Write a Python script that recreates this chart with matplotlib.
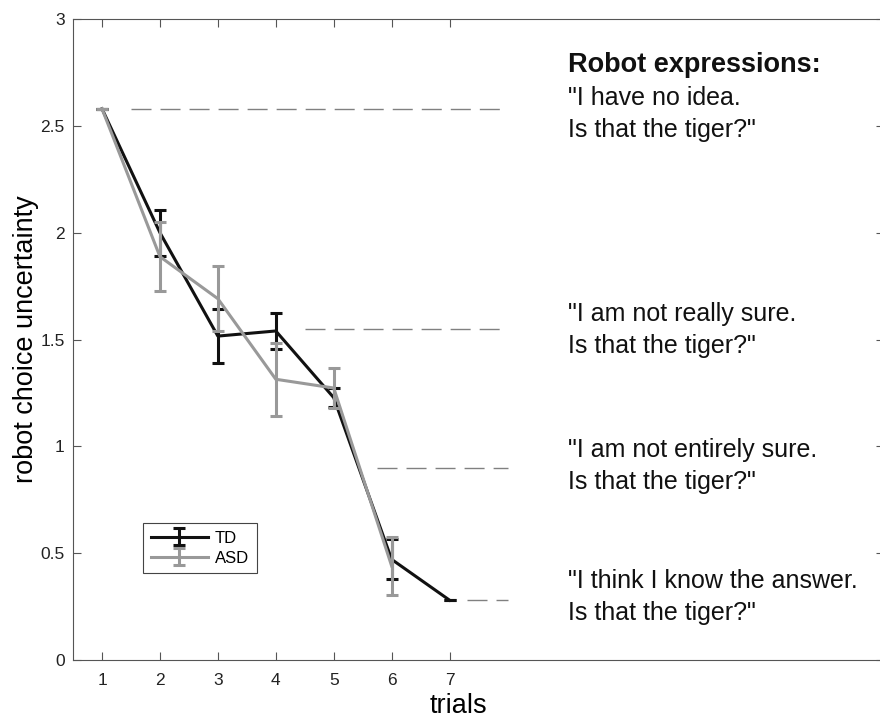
import matplotlib
matplotlib.use("Agg")
import matplotlib.pyplot as plt

plt.rcParams['font.family'] = ['Liberation Sans', 'DejaVu Sans']

# data
trials_td = [1, 2, 3, 4, 5, 6, 7]
td_mean = [2.58, 2.00, 1.516, 1.54, 1.228, 0.471, 0.28]
td_err = [0.0, 0.108, 0.127, 0.083, 0.045, 0.094, 0.0]

trials_asd = [1, 2, 3, 4, 5, 6]
asd_mean = [2.58, 1.888, 1.691, 1.314, 1.273, 0.44]
asd_err = [0.0, 0.162, 0.152, 0.172, 0.095, 0.135]

# robot expression levels (dashed reference lines)
level_y = [2.58, 1.55, 0.90, 0.28]
level_start = [1.5, 4.5, 5.75, 7.3]
level_end = 8.0

header = 'Robot expressions:'
expressions = [
    ['"I have no idea.', 'Is that the tiger?"'],
    ['"I am not really sure.', 'Is that the tiger?"'],
    ['"I am not entirely sure.', 'Is that the tiger?"'],
    ['"I think I know the answer.', 'Is that the tiger?"'],
]
expr_first_baseline = [2.598, 1.586, 0.950, 0.336]
header_baseline = 2.752
line_step = 0.15
text_x = 9.05

fig = plt.figure(figsize=(8.8, 7.2), dpi=100)
ax = fig.add_axes([0.083, 0.0833, 0.9216, 0.8903])

td = ax.errorbar(trials_td, td_mean, yerr=td_err, color='#111111', lw=2.2,
                 elinewidth=2.2, capsize=4.5, capthick=2.2, label='TD', zorder=3)
asd = ax.errorbar(trials_asd, asd_mean, yerr=asd_err, color='#999999', lw=2.2,
                  elinewidth=2.2, capsize=4.5, capthick=2.2, label='ASD', zorder=4)

for y, x0 in zip(level_y, level_start):
    ax.plot([x0, level_end], [y, y], color='#808080', lw=1.0,
            linestyle=(0, (14.4, 6.5)), zorder=2)

ax.text(text_x, header_baseline, header, fontsize=19.5, fontweight='bold',
        va='baseline', ha='left', color='#111111')
for lines, y0 in zip(expressions, expr_first_baseline):
    for i, line in enumerate(lines):
        ax.text(text_x, y0 - i * line_step, line, fontsize=18,
                va='baseline', ha='left', color='#111111')

ax.set_xlim(0.5, 14.5)
ax.set_ylim(0, 3)
ax.set_xticks(trials_td)
ax.set_yticks([0, 0.5, 1, 1.5, 2, 2.5, 3])
ax.set_yticklabels(['0', '0.5', '1', '1.5', '2', '2.5', '3'])

ax.tick_params(axis='x', direction='in', length=6, width=0.8, color='#555555',
               labelsize=12.5, pad=9.5, top=True, labelcolor='#222222')
ax.tick_params(axis='y', direction='in', length=6, width=0.8, color='#555555',
               labelsize=12.5, pad=6, right=True, labelcolor='#222222')
for side in ['left', 'top', 'bottom']:
    ax.spines[side].set_color('#555555')
    ax.spines[side].set_linewidth(0.8)
ax.spines['right'].set_visible(False)

ax.set_xlabel('trials', fontsize=19.5)
ax.set_ylabel('robot choice uncertainty', fontsize=19.5)
ax.xaxis.set_label_coords(0.475, -0.052)
ax.yaxis.set_label_coords(-0.042, 0.5)

leg = ax.legend(loc='lower left', bbox_to_anchor=(0.0868, 0.1357), borderaxespad=0,
                fontsize=12, handlelength=3.4, handletextpad=0.45, labelspacing=0.3,
                borderpad=0.45, fancybox=False, framealpha=1)
leg.get_frame().set_edgecolor('#444444')
leg.get_frame().set_linewidth(0.8)

fig.savefig('out.png', dpi=100)
